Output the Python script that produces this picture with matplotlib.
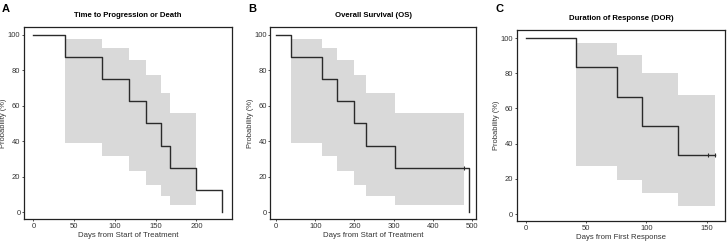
import matplotlib.pyplot as plt

plt.rcParams['font.family'] = ['Liberation Sans', 'DejaVu Sans']

# Panel A: time to progression or death
ttp_times = [0, 39, 84, 117, 138, 157, 168, 200, 232]
ttp_surv = [100, 87.5, 75, 62.5, 50, 37.5, 25, 12.5, 0]
ttp_ci_times = [39, 84, 117, 138, 157, 168, 200]
ttp_ci_upper = [97.9, 92.8, 85.9, 77.2, 67.2, 55.7]
ttp_ci_lower = [38.7, 31.6, 23.0, 15.5, 8.8, 3.8]
ttp_censor_t = []
ttp_censor_s = []

# Panel B: overall survival
os_times = [0, 39, 118, 156, 199, 230, 304, 492]
os_surv = [100, 87.5, 75, 62.5, 50, 37.5, 25, 0]
os_ci_times = [39, 118, 156, 199, 230, 304, 479]
os_ci_upper = [97.9, 92.8, 85.9, 77.2, 67.2, 55.7]
os_ci_lower = [38.7, 31.6, 23.0, 15.5, 8.8, 3.8]
os_censor_t = [479]
os_censor_s = [25]

# Panel C: duration of response
dor_times = [0, 42, 76, 96, 126, 157]
dor_surv = [100, 83.3, 66.7, 50, 33.3, 33.3]
dor_ci_times = [42, 76, 96, 126, 157]
dor_ci_upper = [97.4, 90.4, 80.2, 67.6]
dor_ci_lower = [27.5, 19.6, 11.9, 4.5]
dor_censor_t = [151, 157]
dor_censor_s = [33.3, 33.3]

panels = [
    dict(letter='A', title='Time to Progression or Death', xlabel='Days from Start of Treatment',
         t=ttp_times, s=ttp_surv, ci_t=ttp_ci_times, ci_u=ttp_ci_upper, ci_l=ttp_ci_lower,
         ct=ttp_censor_t, cs=ttp_censor_s, xticks=[0, 50, 100, 150, 200], xlim=(-11.6, 243.6),
         rect=[0.033, 0.113, 0.286, 0.778]),
    dict(letter='B', title='Overall Survival (OS)', xlabel='Days from Start of Treatment',
         t=os_times, s=os_surv, ci_t=os_ci_times, ci_u=os_ci_upper, ci_l=os_ci_lower,
         ct=os_censor_t, cs=os_censor_s, xticks=[0, 100, 200, 300, 400, 500], xlim=(-14.5, 511),
         rect=[0.372, 0.113, 0.283, 0.778]),
    dict(letter='C', title='Duration of Response (DOR)', xlabel='Days from First Response',
         t=dor_times, s=dor_surv, ci_t=dor_ci_times, ci_u=dor_ci_upper, ci_l=dor_ci_lower,
         ct=dor_censor_t, cs=dor_censor_s, xticks=[0, 50, 100, 150], xlim=(-7.3, 165),
         rect=[0.711, 0.105, 0.286, 0.773]),
]

fig = plt.figure(figsize=(7.27, 2.47), dpi=100)

for p in panels:
    ax = fig.add_axes(p['rect'])
    # confidence band
    ax.fill_between(p['ci_t'], p['ci_u'] + [p['ci_u'][-1]], p['ci_l'] + [p['ci_l'][-1]],
                    step='post', color='#d9d9d9', linewidth=0)
    ax.step(p['t'], p['s'], where='post', color='#2b2b2b', linewidth=1.0)
    if p['ct']:
        ax.plot(p['ct'], p['cs'], linestyle='none', marker='|', markersize=3,
                color='#2b2b2b', markeredgewidth=0.8)
    ax.set_xlim(*p['xlim'])
    ax.set_ylim(-4, 104.5)
    ax.set_xticks(p['xticks'])
    ax.set_yticks([0, 20, 40, 60, 80, 100])
    ax.tick_params(labelsize=5.5, length=1.6, width=0.6, color='#333333', labelcolor='#333333', pad=1)
    for sp in ax.spines.values():
        sp.set_linewidth(0.9)
        sp.set_color('#222222')
    ax.set_title(p['title'], fontsize=5.6, fontweight='bold', pad=7)
    ax.set_xlabel(p['xlabel'], fontsize=5.6, color='#333333', labelpad=2)
    ax.set_ylabel('Probability (%)', fontsize=5.4, color='#333333', labelpad=0.5)
    x0 = p['rect'][0]
    fig.text(x0 - 0.03, 0.985, p['letter'], fontsize=8, fontweight='bold', va='top', ha='left')

fig.savefig('out.png', dpi=100)
